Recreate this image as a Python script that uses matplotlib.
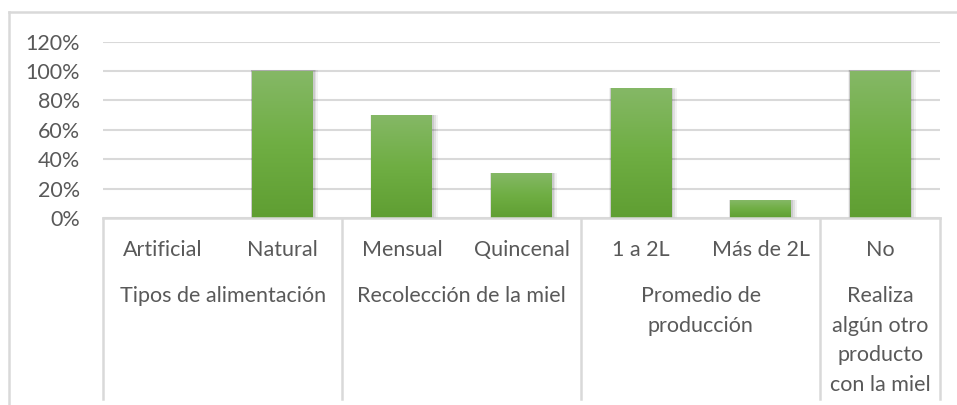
import numpy as np
import matplotlib.pyplot as plt
from matplotlib.lines import Line2D
from matplotlib.patches import Rectangle
from matplotlib.ticker import FuncFormatter
from matplotlib.transforms import blended_transform_factory

# datos de la encuesta
categorias = ['Artificial', 'Natural', 'Mensual', 'Quincenal', '1 a 2L', 'Más de 2L', 'No']
valores = [0.00, 1.00, 0.70, 0.30, 0.88, 0.12, 1.00]
grupos = ['Tipos de alimentación', 'Recolección de la miel',
          'Promedio de\nproducción', 'Realiza\nalgún otro\nproducto\ncon la miel']
tam_grupos = [2, 2, 2, 1]

W, H = 957, 405
plt.rcParams['font.family'] = ['Lato', 'DejaVu Sans']
gris_texto = '#595959'
gris_linea = '#d9d9d9'
fs = 15.5

fig = plt.figure(figsize=(W / 100, H / 100), dpi=100)
ax = fig.add_axes([103 / W, 1 - 218 / H, (940 - 103) / W, (218 - 41.7) / H])

x = np.arange(len(categorias))
ancho = 0.51

# degradado verde de las barras
grad = np.linspace(0, 1, 256).reshape(-1, 1)
cmap = plt.matplotlib.colors.LinearSegmentedColormap.from_list(
    'verde', ['#5f9e32', '#6fae43', '#85b866'])

for xi, v in zip(x, valores):
    if v <= 0:
        continue
    # sombra suave
    for k, a in zip([0.035, 0.022, 0.011], [0.05, 0.07, 0.09]):
        ax.add_patch(Rectangle((xi - ancho / 2 - k * 0.3, 0), ancho + k * 1.6, v + 0.004,
                               facecolor='black', alpha=a, lw=0, zorder=1.5))
    ax.imshow(grad, extent=(xi - ancho / 2, xi + ancho / 2, 0, v), origin='lower',
              aspect='auto', cmap=cmap, zorder=2, interpolation='bilinear')

ax.set_xlim(-0.5, len(categorias) - 0.5)
ax.set_ylim(0, 1.2)
ax.set_yticks(np.arange(0, 1.21, 0.2))
ax.yaxis.set_major_formatter(FuncFormatter(lambda v, p: f'{v * 100:.0f}%'))
ax.tick_params(axis='y', length=0, pad=16.5, labelsize=fs, labelcolor=gris_texto)
ax.set_xticks([])
ax.grid(axis='y', color=gris_linea, lw=1.5)
ax.set_axisbelow(True)
for s in ax.spines.values():
    s.set_visible(False)
ax.axhline(0, color=gris_linea, lw=1.8, zorder=3, clip_on=False)

# eje de categorías en dos niveles
tr = blended_transform_factory(ax.transData, fig.transFigure)
fy = lambda py: 1 - py / H

for xi, c in zip(x, categorias):
    ax.text(xi, fy(250), c, transform=tr, ha='center', va='center',
            fontsize=fs, color=gris_texto)

bordes = np.concatenate([[0], np.cumsum(tam_grupos)]) - 0.5
for b in bordes:
    fig.add_artist(Line2D([b, b], [fy(218), fy(399)], transform=tr,
                          color=gris_linea, lw=1.8))
for g, i0, i1 in zip(grupos, bordes[:-1], bordes[1:]):
    ax.text((i0 + i1) / 2, fy(286), g, transform=tr, ha='center', va='top',
            fontsize=fs, color=gris_texto, linespacing=1.6)

# marco exterior del gráfico
fig.add_artist(Line2D([9 / W, 9 / W], [fy(12.3), 0], color=gris_linea, lw=1.8))
fig.add_artist(Line2D([9 / W, 1], [fy(12.3), fy(12.3)], color=gris_linea, lw=1.8))

fig.savefig('out.png', dpi=100)
